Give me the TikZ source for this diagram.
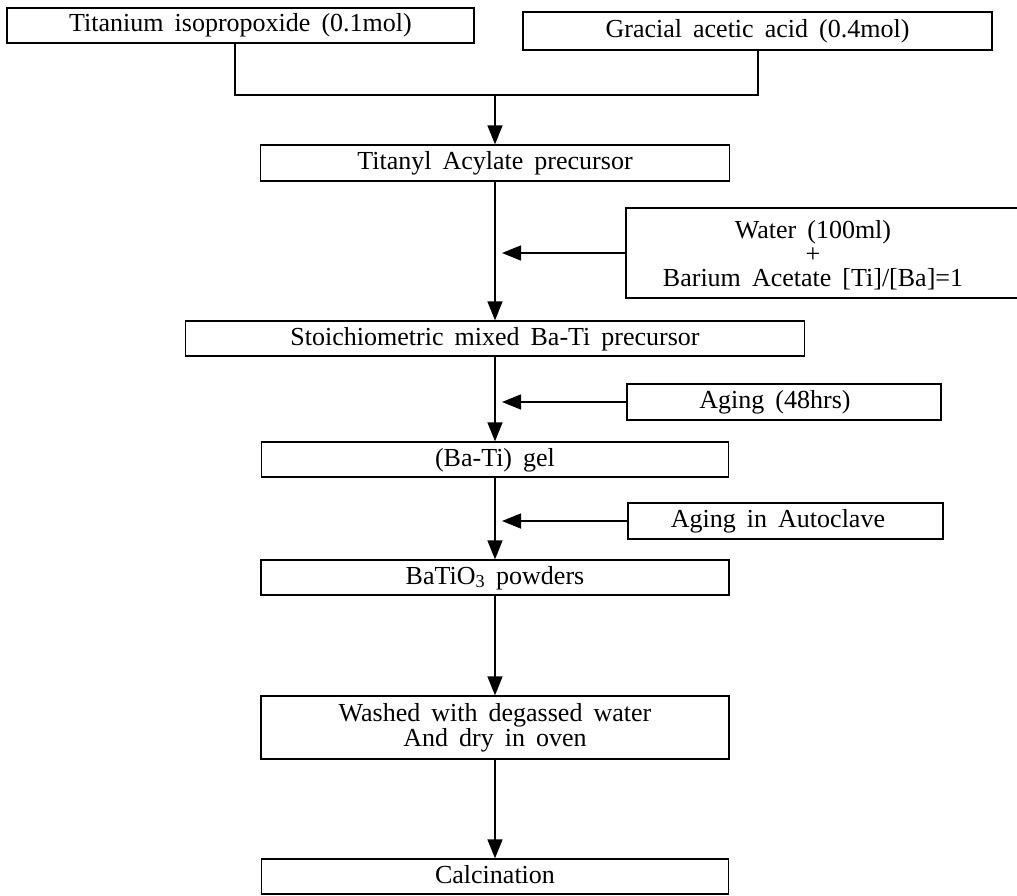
\documentclass[tikz,border=0pt]{standalone}
\usepackage{fontspec}
\setmainfont{Liberation Serif}[WordSpace=1.7]
\usetikzlibrary{arrows.meta}
\begin{document}
\begin{tikzpicture}[x=1pt,y=-1pt,
  box/.style={draw, line width=1.3pt, inner sep=0pt, align=center, font=\fontsize{26}{25}\selectfont},
  one/.style={text height=18pt, text depth=5pt},
  txt/.style={inner sep=0pt, align=center, font=\fontsize{26}{24}\selectfont},
  conn/.style={line width=1.5pt},
  arr/.style={line width=1.5pt, -{Triangle[length=19pt,width=15pt]}}]
\useasboundingbox[fill=white] (0,0) rectangle (1017,896);
% top inputs
\node[box, one, minimum width=467pt, minimum height=35pt] (b1) at (240.5,25.5) {Titanium isopropoxide (0.1mol)};
\node[box, one, minimum width=469pt, minimum height=38pt] (b2) at (757.5,31) {Gracial acetic acid (0.4mol)};
% main column
\node[box, one, minimum width=469pt, minimum height=36pt] (t) at (495,163) {Titanyl Acylate precursor};
\node[box, one, minimum width=619pt, minimum height=35pt] (s) at (495,338.5) {Stoichiometric mixed Ba-Ti precursor};
\node[box, one, minimum width=467pt, minimum height=35pt] (g) at (495,459.5) {(Ba-Ti) gel};
\node[box, one, minimum width=468pt, minimum height=35pt] (p) at (495,577.5) {BaTiO\textsubscript{3} powders};
\node[box, minimum width=468pt, minimum height=63pt] (wd) at (495,727.5) {Washed with degassed water\\And dry in oven};
\node[box, one, minimum width=467pt, minimum height=35pt] (c) at (495,876.5) {Calcination};
% side inputs
\node[draw, line width=1.3pt, minimum width=394pt, minimum height=90pt, inner sep=0pt] (w) at (823,253) {};
\node[txt] (wt) at (813,255) {Water (100ml)\\+\\Barium Acetate [Ti]/[Ba]=1};
\node[draw, line width=1.3pt, minimum width=314pt, minimum height=36pt, inner sep=0pt] (a1) at (784,402) {};
\node[txt, one] (a1t) at (775,402) {Aging (48hrs)};
\node[draw, line width=1.3pt, minimum width=315pt, minimum height=36pt, inner sep=0pt] (a2) at (785.5,521) {};
\node[txt, one] (a2t) at (778,521) {Aging in Autoclave};
% junction
\coordinate (jl) at (235,95);
\coordinate (jr) at (758,95);
\coordinate (jm) at (495,95);
\coordinate (tipx) at (502,0);
\draw[conn] (b1.south -| jl) -- (jl) -- (jr) -- (b2.south -| jr);
\draw[arr] (jm) -- (t.north);
\draw[arr] (t.south) -- (s.north);
\draw[arr] (s.south) -- (g.north);
\draw[arr] (g.south) -- (p.north);
\draw[arr] (p.south) -- (wd.north);
\draw[arr] (wd.south) -- (c.north);
\draw[arr] (w.west) -- (w.west -| tipx);
\draw[arr] (a1.west) -- (a1.west -| tipx);
\draw[arr] (a2.west) -- (a2.west -| tipx);
\end{tikzpicture}
\end{document}
